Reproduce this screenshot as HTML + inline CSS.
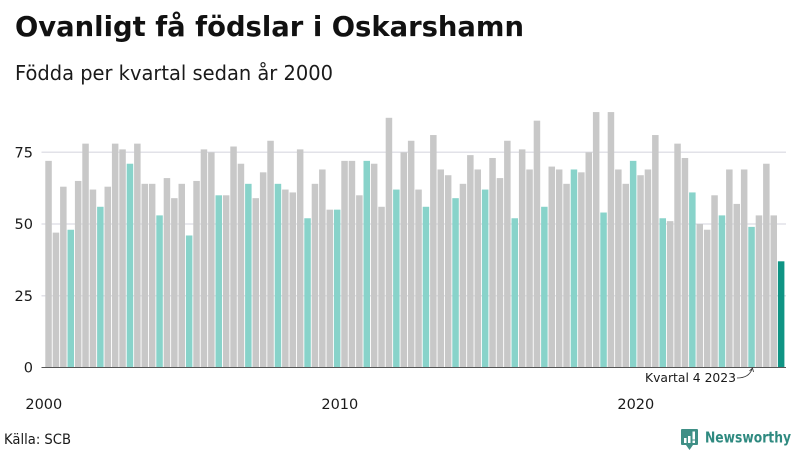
<!DOCTYPE html>
<html lang="sv">
<head>
<meta charset="utf-8">
<title>Ovanligt få födslar i Oskarshamn</title>
<style>
html,body{margin:0;padding:0;background:#fff;width:800px;height:450px;overflow:hidden}
svg{display:block}
text{font-family:"DejaVu Sans","Liberation Sans",sans-serif;fill:#1a1a1a}
</style>
</head>
<body>
<svg id="chart" xmlns="http://www.w3.org/2000/svg" width="800" height="450" viewBox="0 0 800 450">
  <text x="15" y="36" font-size="28" font-weight="700" fill="#111" textLength="509" lengthAdjust="spacingAndGlyphs" style="font-weight:700;fill:#111">Ovanligt få födslar i Oskarshamn</text>
  <text x="15" y="80" font-size="20" textLength="318" lengthAdjust="spacingAndGlyphs">Födda per kvartal sedan år 2000</text>
  <g id="grid"></g>
  <g id="bars"></g>
  <g id="yaxis"></g>
  <g id="xaxis"></g>
  <text x="645" y="382" font-size="12.500" textLength="91" lengthAdjust="spacingAndGlyphs">Kvartal 4 2023</text>
  <path d="M737 378 C745 378 750 375 752 369 M749.500 371 L752.500 368 L753.500 372" fill="none" stroke="#333" stroke-width="0.8"/>
  <text x="4" y="444" font-size="14" textLength="67" lengthAdjust="spacingAndGlyphs">Källa: SCB</text>
  <g>
    <path d="M682 429 H697 Q698 429 698 430 V444 Q698 445 697 445 H693 L689.500 450 L686 445 H682 Q681 445 681 444 V430 Q681 429 682 429 Z" fill="#3f8f86"/>
    <rect x="684" y="438" width="2.500" height="5" fill="#fff"/>
    <rect x="688" y="436" width="2.500" height="7" fill="#fff"/>
    <rect x="692.500" y="431.500" width="2.500" height="8" fill="#fff"/>
    <rect x="692.500" y="440.500" width="2.500" height="2.500" fill="#fff"/>
    <text x="705" y="442.500" font-size="15" font-weight="700" textLength="86" lengthAdjust="spacingAndGlyphs" style="font-weight:700;fill:#2f8a80">Newsworthy</text>
  </g>
</svg>
<script>
const quarters = [
  72,47,63,48, 65,78,62,56, 63,78,76,71, 78,64,64,53, 66,59,64,46,
  65,76,75,60, 60,77,71,64, 59,68,79,64, 62,61,76,52, 64,69,55,55,
  72,72,60,72, 71,56,87,62, 75,79,62,56, 81,69,67,59, 64,74,69,62,
  73,66,79,52, 76,69,86,56, 70,69,64,69, 68,75,89,54, 89,69,64,72,
  67,69,81,52, 51,78,73,61, 50,48,60,53, 69,57,69,49, 53,71,53,37
];
const yTicks = [0, 25, 50, 75];
const yearLabels = [2000, 2010, 2020];
const firstYear = 2000;

const NS = 'http://www.w3.org/2000/svg';
const yScale = v => 367.5 - v * 2.87;
const xScale = i => 45.3 + i * 7.4;
const barWidth = 6.5;

const grid = document.getElementById('grid');
const barsGroup = document.getElementById('bars');
const yaxis = document.getElementById('yaxis');
const xaxis = document.getElementById('xaxis');

yTicks.forEach(t => {
  if (t !== 0) {
    const line = document.createElementNS(NS, 'line');
    
    
    line.setAttribute('x1', 41.5);
    line.setAttribute('x2', 786);
    line.setAttribute('y1', yScale(t));
    line.setAttribute('y2', yScale(t));
    line.setAttribute('stroke', '#e2e2e8');
    line.setAttribute('stroke-width', 1.5);
    grid.appendChild(line);
  }
  const label = document.createElementNS(NS, 'text');
  
  
  label.setAttribute('x', 33);
  label.setAttribute('y', yScale(t) + 5);
  label.setAttribute('text-anchor', 'end');
  label.setAttribute('font-size', 14.5);
  label.textContent = t;
  yaxis.appendChild(label);
});

quarters.forEach((v, i) => {
  const bar = document.createElementNS(NS, 'rect');
  
  
  bar.setAttribute('x', xScale(i));
  bar.setAttribute('y', yScale(v));
  bar.setAttribute('width', barWidth);
  bar.setAttribute('height', yScale(0) - yScale(v));
  const isLast = i === quarters.length - 1;
  const isQ4 = i % 4 === 3;
  bar.setAttribute('fill', isLast ? '#0f9484' : isQ4 ? '#88d3ca' : '#c8c8c8');
  barsGroup.appendChild(bar);
});

const baseline = document.createElementNS(NS, 'line');


baseline.setAttribute('x1', 41.5);
baseline.setAttribute('x2', 786);
baseline.setAttribute('y1', yScale(0));
baseline.setAttribute('y2', yScale(0));
baseline.setAttribute('stroke', '#555');
baseline.setAttribute('stroke-width', 1);
xaxis.appendChild(baseline);

yearLabels.forEach(y => {
  const label = document.createElementNS(NS, 'text');
  
  
  label.setAttribute('x', xScale((y - firstYear) * 4) - 1.5);
  label.setAttribute('y', 409);
  label.setAttribute('text-anchor', 'middle');
  label.setAttribute('font-size', 14.5);
  label.textContent = y;
  xaxis.appendChild(label);
});
</script>
</body>
</html>
